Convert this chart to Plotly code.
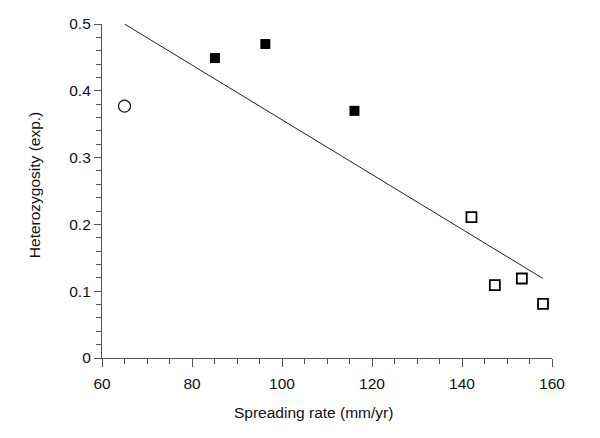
import plotly.graph_objects as go

# Data
circle_x = [65.0]
circle_y = [0.377]
filled_x = [85.1, 96.3, 116.1]
filled_y = [0.449, 0.470, 0.370]
open_x = [142.1, 147.3, 153.3, 158.0]
open_y = [0.211, 0.109, 0.119, 0.081]
fit_x = [65.0, 158.0]
fit_y = [0.500, 0.119]

x_ticks = [60, 80, 100, 120, 140, 160]
y_ticks = [0, 0.1, 0.2, 0.3, 0.4, 0.5]
y_tick_text = ["0", "0.1", "0.2", "0.3", "0.4", "0.5"]
x_title = "Spreading rate (mm/yr)"
y_title = "Heterozygosity (exp.)"

fig = go.Figure()
fig.add_trace(go.Scatter(x=fit_x, y=fit_y, mode="lines",
                         line=dict(color="#222222", width=1), cliponaxis=False))
fig.add_trace(go.Scatter(x=circle_x, y=circle_y, mode="markers", cliponaxis=False,
                         marker=dict(symbol="circle-open", size=12, color="#111111",
                                     line=dict(width=1.2))))
fig.add_trace(go.Scatter(x=filled_x, y=filled_y, mode="markers", cliponaxis=False,
                         marker=dict(symbol="square", size=10, color="#000000")))
fig.add_trace(go.Scatter(x=open_x, y=open_y, mode="markers", cliponaxis=False,
                         marker=dict(symbol="square-open", size=10, color="#000000",
                                     line=dict(width=1.8))))

FONT = "Liberation Sans, Arial, sans-serif"
axis_font = dict(family=FONT, size=15.5, color="#111111")
title_font = dict(family=FONT, size=15.5, color="#111111")

fig.update_layout(
    width=600, height=438,
    margin=dict(l=94, r=56, t=16, b=88),
    paper_bgcolor="white", plot_bgcolor="white",
    showlegend=False,
    font=dict(family=FONT, color="#111111"),
    xaxis=dict(range=[60, 160], tickvals=x_ticks, ticks="outside", ticklen=8,
               tickwidth=1.2, tickcolor="#555555", ticklabelstandoff=3, automargin=False,
               showline=True, linecolor="#555555", linewidth=1.2,
               showgrid=False, zeroline=False, tickfont=axis_font,
               minor=dict(dtick=5, ticks="outside", ticklen=5, tickcolor="#555555", tickwidth=1)),
    yaxis=dict(range=[0, 0.5], tickvals=y_ticks, ticktext=y_tick_text, ticks="outside", ticklen=7,
               tickwidth=1.2, tickcolor="#555555", automargin=False,
               showline=True, linecolor="#555555", linewidth=1.2,
               showgrid=False, zeroline=False, tickfont=axis_font,
               minor=dict(dtick=0.02, ticks="outside", ticklen=5, tickcolor="#555555", tickwidth=1)),
    annotations=[
        dict(text=x_title, xref="paper", yref="paper", x=0.469, y=-0.162,
             xanchor="center", yanchor="middle", showarrow=False, font=title_font),
        dict(text=y_title, xref="paper", yref="paper", x=-0.150, y=0.516, textangle=-90,
             xanchor="center", yanchor="middle", showarrow=False, font=title_font),
    ],
)

fig.write_html("out.html")
